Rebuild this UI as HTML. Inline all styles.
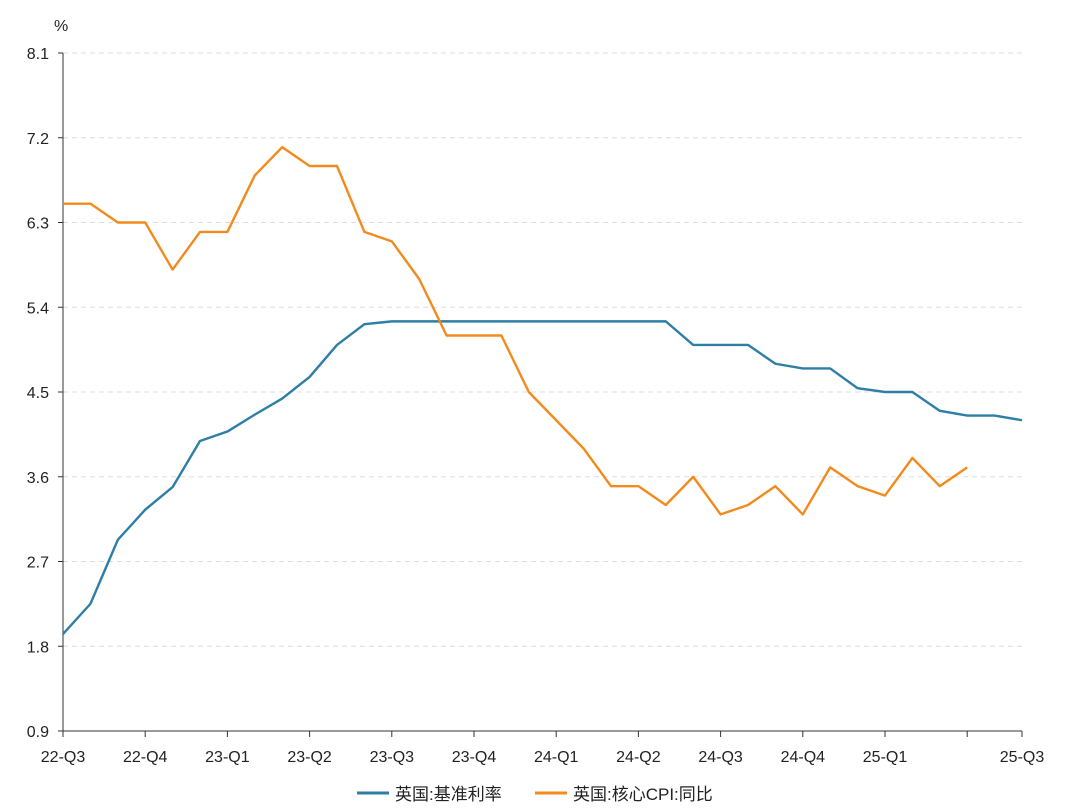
<!DOCTYPE html>
<html><head><meta charset="utf-8"><style>
body{margin:0;background:#fff;font-family:"Liberation Sans","Noto Sans CJK SC",sans-serif;}
svg text{font-family:"Liberation Sans","Noto Sans CJK SC",sans-serif;fill:#222;}
</style></head><body>
<svg id="c" width="1080" height="807"></svg>
<script>
const xLabels=["22-Q3","","","22-Q4","","","23-Q1","","","23-Q2","","","23-Q3","","","23-Q4","","","24-Q1","","","24-Q2","","","24-Q3","","","24-Q4","","","25-Q1","","","","","25-Q3"];
const policyRate=[1.93,2.25,2.93,3.25,3.49,3.98,4.08,4.26,4.43,4.66,5.0,5.22,5.25,5.25,5.25,5.25,5.25,5.25,5.25,5.25,5.25,5.25,5.25,5.0,5.0,5.0,4.8,4.75,4.75,4.54,4.5,4.5,4.3,4.25,4.25,4.2];
const coreCpi=[6.5,6.5,6.3,6.3,5.8,6.2,6.2,6.8,7.1,6.9,6.9,6.2,6.1,5.7,5.1,5.1,5.1,4.5,4.2,3.9,3.5,3.5,3.3,3.6,3.2,3.3,3.5,3.2,3.7,3.5,3.4,3.8,3.5,3.7];
const yTicks=[0.9,1.8,2.7,3.6,4.5,5.4,6.3,7.2,8.1];
const NS="http://www.w3.org/2000/svg",svg=document.getElementById('c');
const x0=63,x1=1022,yTop=53,yBot=731,yMin=0.9,yMax=8.1;
const X=i=>x0+i*(x1-x0)/(xLabels.length-1);
const Y=v=>yBot-(v-yMin)/(yMax-yMin)*(yBot-yTop);
function el(t,a,txt){const e=document.createElementNS(NS,t);for(const k in a)e.setAttribute(k,a[k]);if(txt!=null)e.textContent=txt;svg.appendChild(e);return e;}
yTicks.forEach((v,i)=>{
 if(i>0){const g=el('line',{x1:x0,x2:x1,y1:Y(v),y2:Y(v),stroke:'#ddd','stroke-dasharray':'5,4'});
 
 }
 const tk=el('line',{x1:x0-5,x2:x0,y1:Y(v),y2:Y(v),stroke:'#333'});
 
 
 const t=el('text',{x:x0-14,y:Y(v)+6,'text-anchor':'end','font-size':16},v.toFixed(1));
 
 
});
const u=el('text',{x:54,y:31,'font-size':16},'%');


const ya=el('line',{x1:x0,x2:x0,y1:yTop,y2:yBot,stroke:'#333'});


const xa=el('line',{x1:x0,x2:x1,y1:yBot,y2:yBot,stroke:'#333'});


xLabels.forEach((l,i)=>{
 if(i%3!==0&&i!==xLabels.length-1)return;
 const tk=el('line',{x1:X(i),x2:X(i),y1:yBot,y2:yBot+6,stroke:'#333'});
 
 
 if(l){const t=el('text',{x:X(i),y:762,'text-anchor':'middle','font-size':16},l);
 
 }
});
function line(d,c,n){const p=el('polyline',{points:d.map((v,i)=>X(i)+','+Y(v)).join(' '),fill:'none',stroke:c,'stroke-width':2.4,'stroke-linejoin':'round'});
 
 }
line(policyRate,'#2e7ea6','series-policy-rate');
line(coreCpi,'#f28b1e','series-core-cpi');
function leg(x,c,txt,n){const g=el('line',{x1:x,x2:x+32,y1:793,y2:793,stroke:c,'stroke-width':3});
 
 
 const t=el('text',{x:x+38,y:800,'font-size':17},txt);
 
 }
leg(357,'#2e7ea6','英国:基准利率','legend-policy-rate');
leg(535,'#f28b1e','英国:核心CPI:同比','legend-core-cpi');
</script>
</body></html>
